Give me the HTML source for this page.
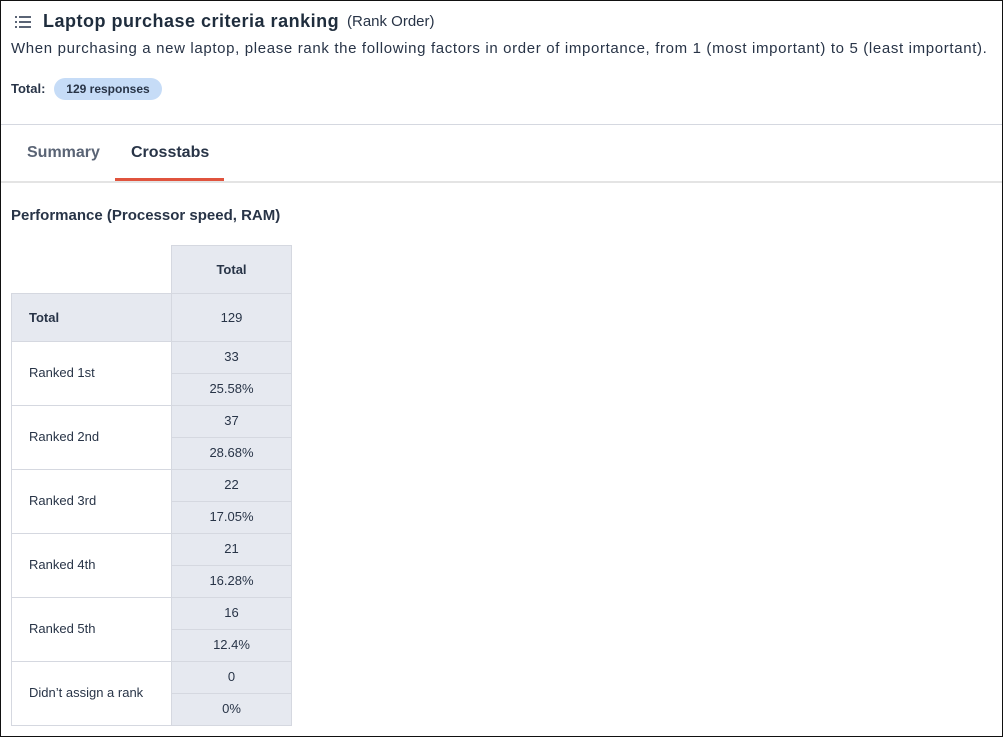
<!DOCTYPE html>
<html><head><style>
*{margin:0;padding:0;box-sizing:border-box}
body{width:1003px;height:737px;overflow:hidden;background:#fff;font-family:"Liberation Sans",sans-serif;color:#283447;position:relative}
.frame{position:absolute;left:0;top:0;width:1003px;height:737px;border:1px solid #111}
.a{position:absolute;white-space:nowrap}
.c{position:absolute;border:1px solid #d5d8e0;display:flex;align-items:center;font-size:13px}
.g{background:#e6e9f0}
</style></head><body>
<div class="frame"></div>
<svg class="a" style="left:15px;top:15px" width="17" height="14"><g fill="#5a6475"><rect x="0" y="1" width="2" height="2"/><rect x="4" y="1" width="12" height="2"/><rect x="0" y="6" width="2" height="2"/><rect x="4" y="6" width="12" height="2"/><rect x="0" y="11" width="2" height="2"/><rect x="4" y="11" width="12" height="2"/></g></svg>
<div class="a" style="left:43px;top:11px;font-size:18px;font-weight:bold;color:#1f2d3d;letter-spacing:0.5px">Laptop purchase criteria ranking</div>
<div class="a" style="left:347px;top:13px;font-size:15px">(Rank Order)</div>
<div class="a" style="left:11px;top:40px;font-size:15px;letter-spacing:0.65px">When purchasing a new laptop, please rank the following factors in order of importance, from 1 (most important) to 5 (least important).</div>
<div class="a" style="left:11px;top:81px;font-size:13px;font-weight:bold">Total:</div>
<div class="a" style="left:54px;top:78px;width:108px;height:22px;border-radius:11px;background:#c6dcf7;font-size:12px;font-weight:bold;text-align:center;line-height:22px">129 responses</div>
<div class="a" style="left:1px;top:124px;width:1001px;height:1px;background:#d5d8e0"></div>
<div class="a" style="left:27px;top:144px;font-size:16px;font-weight:bold;color:#5a6475">Summary</div>
<div class="a" style="left:131px;top:144px;font-size:16px;font-weight:bold;color:#283447">Crosstabs</div>
<div class="a" style="left:115px;top:178px;width:109px;height:3px;background:#e0533d"></div>
<div class="a" style="left:1px;top:181px;width:1001px;height:2px;background:#e4e4e4"></div>
<div class="a" style="left:11px;top:207px;font-size:15px;font-weight:bold">Performance (Processor speed, RAM)</div>
<div class="c g" style="left:171px;top:245px;width:121px;height:49px;justify-content:center;font-weight:bold">Total</div>
<div class="c g" style="left:11px;top:293px;width:161px;height:49px;padding-left:17px;font-weight:bold">Total</div>
<div class="c g" style="left:171px;top:293px;width:121px;height:49px;justify-content:center">129</div>
<div id="rows"></div>
<script>
var d=[["Ranked 1st","33","25.58%"],["Ranked 2nd","37","28.68%"],["Ranked 3rd","22","17.05%"],["Ranked 4th","21","16.28%"],["Ranked 5th","16","12.4%"],["Didn’t assign a rank","0","0%"]];
var h="";d.forEach(function(r,i){var y=341+i*64;
h+='<div class="c" style="left:11px;top:'+y+'px;width:161px;height:65px;padding-left:17px;padding-bottom:2px">'+r[0]+'</div>';
h+='<div class="c g" style="left:171px;top:'+y+'px;width:121px;height:33px;justify-content:center;padding-bottom:2px">'+r[1]+'</div>';
h+='<div class="c g" style="left:171px;top:'+(y+32)+'px;width:121px;height:33px;justify-content:center;padding-bottom:2px">'+r[2]+'</div>';});
document.getElementById("rows").innerHTML=h;
</script>
</body></html>
